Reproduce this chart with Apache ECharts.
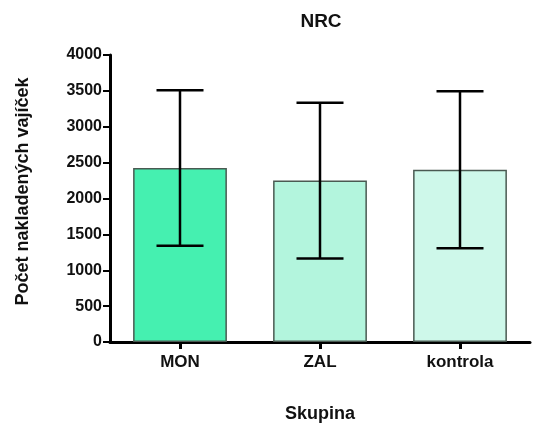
<!DOCTYPE html>
<html>
<head>
<meta charset="utf-8">
<script src="https://cdn.jsdelivr.net/npm/echarts@6/dist/echarts.min.js"></script>
<style>
html,body{margin:0;padding:0;background:#fff;}
#c{width:542px;height:423px;}
</style>
</head>
<body>
<div id="c"></div>
<script>
const categories = ['MON', 'ZAL', 'kontrola'];
const means = [2425, 2250, 2400];
const errLow = [1340, 1165, 1305];
const errHigh = [3510, 3335, 3495];
const barColors = ['#45F0B0', '#B3F5DD', '#CEF8EA'];
const yTicks = [0, 500, 1000, 1500, 2000, 2500, 3000, 3500, 4000];

const FONT = 'Liberation Sans, Arial, sans-serif';
const chart = echarts.init(document.getElementById('c'), null, {renderer: 'canvas'});

chart.setOption({
  animation: false,
  backgroundColor: '#fff',
  title: {
    text: 'NRC', left: 316, top: 7, textAlign: 'center',
    textStyle: {fontFamily: FONT, fontWeight: 'bold', fontSize: 19, color: '#111'}
  },
  grid: {left: 110, right: 12, top: 55, bottom: 81, containLabel: false, outerBoundsMode: 'none'},
  xAxis: {
    type: 'category',
    data: categories,
    name: 'Skupina',
    nameLocation: 'middle',
    nameGap: 63,
    nameTextStyle: {fontFamily: FONT, fontWeight: 'bold', fontSize: 18, color: '#111'},
    axisLine: {lineStyle: {color: '#000', width: 3}},
    axisTick: {show: true, alignWithLabel: true, length: 7, lineStyle: {color: '#000', width: 3}},
    axisLabel: {fontFamily: FONT, fontWeight: 'bold', fontSize: 17, color: '#111', margin: 12},
    splitLine: {show: false}
  },
  yAxis: {
    type: 'value',
    min: yTicks[0], max: yTicks[yTicks.length - 1], interval: 500,
    name: 'Počet nakladených vajíček',
    nameLocation: 'middle',
    nameGap: 78,
    nameTextStyle: {fontFamily: FONT, fontWeight: 'bold', fontSize: 18, color: '#111', padding: [0, 0, 0, 14]},
    axisLine: {show: true, lineStyle: {color: '#000', width: 3}},
    axisTick: {show: true, length: 7, lineStyle: {color: '#000', width: 2}},
    axisLabel: {fontFamily: FONT, fontWeight: 'bold', fontSize: 16, color: '#111', margin: 8,
      formatter: v => String(v)},
    splitLine: {show: false}
  },
  series: [
    {
      type: 'bar',
      data: means.map((v, i) => ({value: v, itemStyle: {color: barColors[i]}})),
      barWidth: '67%',
      itemStyle: {borderColor: '#4a5a52', borderWidth: 1.5},
      z: 2
    },
    {
      type: 'custom',
      data: categories.map((c, i) => [i, errLow[i], errHigh[i]]),
      renderItem: function (params, api) {
        const x = api.value(0);
        const lo = api.coord([x, api.value(1)]);
        const hi = api.coord([x, api.value(2)]);
        const half = 23.5;
        const st = {stroke: '#000', lineWidth: 2.5};
        return {
          type: 'group',
          children: [
            {type: 'line', shape: {x1: lo[0], y1: lo[1], x2: hi[0], y2: hi[1]}, style: st},
            {type: 'line', shape: {x1: lo[0] - half, y1: lo[1], x2: lo[0] + half, y2: lo[1]}, style: st},
            {type: 'line', shape: {x1: hi[0] - half, y1: hi[1], x2: hi[0] + half, y2: hi[1]}, style: st}
          ]
        };
      },
      z: 5
    }
  ]
});
</script>
</body>
</html>
